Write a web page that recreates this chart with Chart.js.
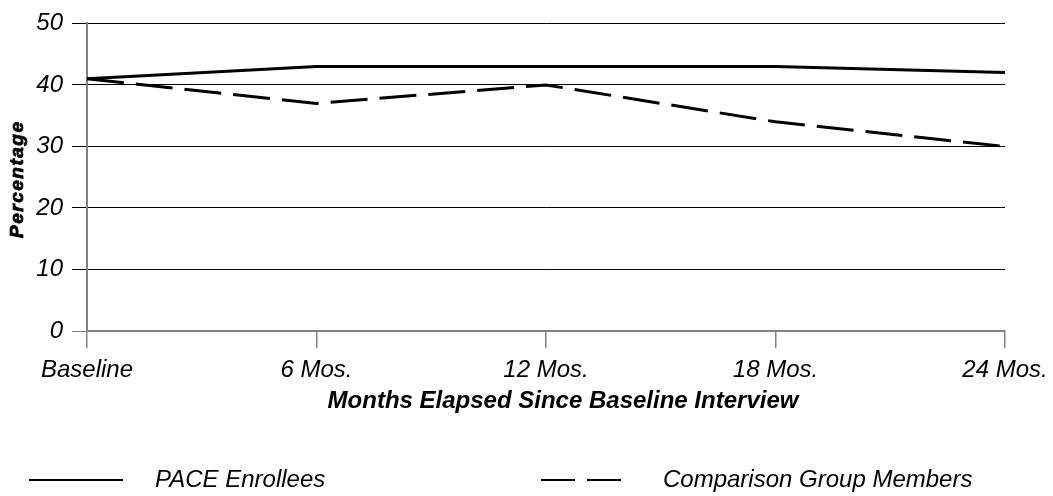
<!DOCTYPE html>
<html>
<head>
<meta charset="utf-8">
<script src="https://cdn.jsdelivr.net/npm/chart.js@4.4.1/dist/chart.umd.min.js"></script>
<style>
html, body { margin: 0; padding: 0; background: #fff; }
#wrap { width: 1053px; height: 496px; }
</style>
</head>
<body>
<div id="wrap"><canvas id="chart" width="1053" height="496"></canvas></div>
<script>
// data
const months = ['Baseline', '6 Mos.', '12 Mos.', '18 Mos.', '24 Mos.'];
const paceValues = [41, 43, 43, 43, 42];
const comparisonValues = [41, 37, 40, 34, 30];
const yTicks = [0, 10, 20, 30, 40, 50];
const seriesNames = ['PACE Enrollees', 'Comparison Group Members'];
const xTitle = 'Months Elapsed Since Baseline Interview';
const yTitle = 'Percentage';

const FONT = '"Liberation Sans", Arial, Helvetica, sans-serif';
const AXIS_GREY = '#808080';

// axis titles + bottom legend, drawn by hand to match the original layout
const extras = {
    id: 'extras',
    afterDraw(chart) {
        const ctx = chart.ctx;
        const area = chart.chartArea;
        ctx.save();
        ctx.fillStyle = '#000';

        // x title (sits a bit right of centre in the original)
        ctx.font = 'italic bold 24px ' + FONT;
        ctx.textAlign = 'center';
        ctx.textBaseline = 'middle';
        ctx.fillText(xTitle, (area.left + area.right) / 2 + 17, 401);

        // y title, rotated, heavy and spaced out
        ctx.save();
        ctx.translate(18, (area.top + area.bottom) / 2 + 2);
        ctx.rotate(-Math.PI / 2);
        ctx.font = 'italic bold 19px ' + FONT;
        ctx.letterSpacing = '1.5px';
        ctx.lineWidth = 0.8;
        ctx.strokeStyle = '#000';
        ctx.strokeText(yTitle, 0, 0);
        ctx.fillText(yTitle, 0, 0);
        ctx.restore();

        // legend
        const items = [
            { x0: 29, x1: 123, tx: 155 },
            { x0: 541, x1: 622, tx: 663 }
        ];
        const ly = 480;
        chart.data.datasets.forEach((ds, i) => {
            const it = items[i];
            ctx.beginPath();
            ctx.strokeStyle = ds.borderColor;
            ctx.lineWidth = 2;
            ctx.setLineDash(ds.borderDash && ds.borderDash.length ? [34, 12] : []);
            ctx.moveTo(it.x0, ly);
            ctx.lineTo(it.x1, ly);
            ctx.stroke();
            ctx.setLineDash([]);
            ctx.font = 'italic 24px ' + FONT;
            ctx.textAlign = 'left';
            ctx.textBaseline = 'middle';
            ctx.fillText(ds.label, it.tx, ly);
        });
        ctx.restore();
    }
};

const chart = new Chart(document.getElementById('chart').getContext('2d'), {
    type: 'line',
    data: {
        labels: months,
        datasets: [{
            label: seriesNames[0],
            data: paceValues,
            borderColor: '#000',
            borderWidth: 3,
            pointRadius: 0,
            tension: 0,
            fill: false
        }, {
            label: seriesNames[1],
            data: comparisonValues,
            borderColor: '#000',
            borderWidth: 3,
            borderDash: [37, 12],
            pointRadius: 0,
            tension: 0,
            fill: false
        }]
    },
    options: {
        responsive: false,
        animation: false,
        devicePixelRatio: 1,
        layout: { padding: { left: 0, right: 48, top: 18, bottom: 0 } },
        plugins: {
            legend: { display: false },
            tooltip: { enabled: false }
        },
        scales: {
            x: {
                offset: false,
                grid: {
                    drawOnChartArea: false,
                    drawTicks: true,
                    tickLength: 17,
                    color: AXIS_GREY,
                    lineWidth: 1.5
                },
                border: { display: true, color: AXIS_GREY, width: 2 },
                ticks: {
                    color: '#000',
                    font: { family: FONT, size: 24, style: 'italic' },
                    padding: 8,
                    maxRotation: 0,
                    autoSkip: false
                },
                afterFit(scale) {
                    scale.height = 496 - 331;
                    // let the end labels hang past the plot like the original
                    scale.paddingLeft = 0;
                    scale.paddingRight = 0;
                }
            },
            y: {
                min: 0,
                max: 50,
                afterBuildTicks(scale) { scale.ticks = yTicks.map(v => ({ value: v })); },
                grid: {
                    tickLength: 15,
                    color: c => (c.tick && c.tick.value === 0 ? AXIS_GREY : '#000'),
                    lineWidth: 1
                },
                border: { display: true, color: AXIS_GREY, width: 2 },
                ticks: {
                    color: '#000',
                    font: { family: FONT, size: 24, style: 'italic' },
                    padding: 9
                },
                afterFit(scale) { scale.width = 87; }
            }
        }
    },
    plugins: [extras]
});
</script>
</body>
</html>
